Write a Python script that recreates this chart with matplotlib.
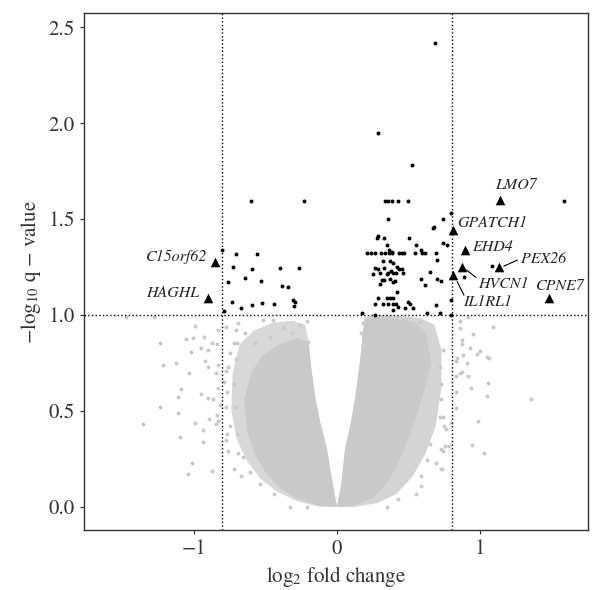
import matplotlib
matplotlib.use("Agg")
import matplotlib.pyplot as plt

plt.rcParams['font.family'] = ['STIXGeneral', 'DejaVu Serif']
plt.rcParams['mathtext.fontset'] = 'stix'

# outlines of the non-significant cloud
# core = where the grey dots merge into a solid mass, halo = the sparser rim
left_core_x = [0.0, -0.03, -0.07, -0.12, -0.15, -0.18, -0.20, -0.28, -0.40, -0.52, -0.60, -0.65, -0.63, -0.58, -0.50, -0.42, -0.30, -0.15]
left_core_y = [0.0, 0.12, 0.30, 0.45, 0.56, 0.72, 0.86, 0.88, 0.85, 0.79, 0.70, 0.56, 0.40, 0.28, 0.18, 0.11, 0.05, 0.01]
right_core_x = [0.0, 0.03, 0.056, 0.10, 0.125, 0.16, 0.18, 0.20, 0.30, 0.42, 0.55, 0.62, 0.66, 0.60, 0.53, 0.47, 0.41, 0.35, 0.26, 0.12]
right_core_y = [0.0, 0.12, 0.30, 0.45, 0.56, 0.75, 0.90, 0.98, 0.99, 0.98, 0.96, 0.91, 0.75, 0.58, 0.42, 0.30, 0.20, 0.125, 0.05, 0.01]
left_halo_x = [0.0, -0.03, -0.07, -0.12, -0.15, -0.18, -0.20, -0.22, -0.32, -0.45, -0.58, -0.68, -0.73, -0.74, -0.70, -0.63, -0.54, -0.42, -0.28, -0.12]
left_halo_y = [0.0, 0.12, 0.30, 0.45, 0.56, 0.72, 0.86, 0.95, 0.97, 0.96, 0.92, 0.85, 0.70, 0.50, 0.35, 0.24, 0.15, 0.08, 0.03, 0.0]
right_halo_x = [0.0, 0.03, 0.056, 0.10, 0.125, 0.16, 0.18, 0.19, 0.30, 0.45, 0.58, 0.68, 0.73, 0.73, 0.69, 0.62, 0.53, 0.42, 0.28, 0.12]
right_halo_y = [0.0, 0.12, 0.30, 0.45, 0.56, 0.75, 0.90, 0.99, 1.0, 0.995, 0.985, 0.95, 0.82, 0.62, 0.42, 0.28, 0.16, 0.07, 0.02, 0.0]

# scattered non-significant genes
grey_x = [-1.478, -1.28, -0.993, -1.238, -1.058, -1.01, -0.93, -1.023, -0.953, -0.872, -0.90, -1.22, -1.128,
          -0.925, -0.90, -1.033, -1.093, -1.11, -0.953, -0.90, -0.87, -1.236, -1.11, -1.36, -0.995, -0.937,
          -0.895, -0.837, -1.10, -0.937, -1.012, -1.044, -0.872,
          -0.83, -0.84, -0.83, -0.85, -0.83, -0.82, -0.83, -0.85,
          -0.78, -0.71, -0.69, -0.72, -0.75, -0.78, -0.76, -0.79, -0.77, -0.78, -0.75, -0.77, -0.78, -0.76,
          -0.69, -0.72, -0.67,
          -0.70, -0.643, -0.573, -0.469, -0.375, -0.259, -0.21, -0.515, -0.45, -0.315, -0.20, -0.71, -0.72,
          -0.71, -0.70, -0.66, -0.61, -0.54, -0.44, -0.33, -0.21,
          0.914, 1.089, 0.949, 0.86, 0.86, 0.872, 0.876, 0.93, 1.0, 0.977, 1.047, 1.06, 0.88, 0.837, 0.83,
          0.911, 0.872, 0.86, 0.918, 0.83, 1.058, 0.937, 1.047, 1.36, 0.83, 0.832, 0.984, 0.942, 1.028, 0.80,
          0.76, 0.785, 0.756, 0.74, 0.737, 0.74,
          0.743, 0.72, 0.73, 0.72, 0.65, 0.63, 0.73, 0.59, 0.35,
          0.277, 0.37, 0.46, 0.52, 0.58, 0.50, 0.56, 0.18, 0.17, 0.73, 0.75, 0.73, 0.69, 0.59, 0.55, 0.43]
grey_y = [0.99, 0.99, 0.944, 0.856, 0.875, 0.88, 0.885, 0.81, 0.83, 0.856, 0.82, 0.74, 0.75,
          0.76, 0.73, 0.696, 0.615, 0.575, 0.59, 0.566, 0.56, 0.52, 0.49, 0.43, 0.44, 0.40,
          0.457, 0.48, 0.366, 0.34, 0.23, 0.172, 0.187,
          0.92, 0.85, 0.74, 0.70, 0.62, 0.53, 0.45, 0.43,
          0.94, 0.92, 0.96, 0.856, 0.80, 0.71, 0.73, 0.65, 0.60, 0.52, 0.42, 0.38, 0.35, 0.29,
          0.28, 0.20, 0.16,
          0.853, 0.905, 0.853, 0.887, 0.93, 0.948, 0.97, 0.974, 0.974, 0.905, 0.861, 0.77, 0.64,
          0.52, 0.38, 0.26, 0.18, 0.12, 0.07, 0.0, 0.0,
          0.988, 0.936, 0.90, 0.97, 0.93, 0.87, 0.85, 0.83, 0.814, 0.797, 0.783, 0.775, 0.79, 0.774, 0.76,
          0.748, 0.705, 0.70, 0.682, 0.68, 0.644, 0.618, 0.578, 0.56, 0.60, 0.514, 0.45, 0.323, 0.28, 0.44,
          0.405, 0.318, 0.316, 0.29, 0.196, 0.47,
          0.82, 0.73, 0.56, 0.47, 0.33, 0.245, 0.20, 0.16, 0.0,
          0.991, 0.98, 0.974, 0.957, 0.965, 0.905, 0.88, 0.957, 0.905, 0.64, 0.42, 0.30, 0.23, 0.11, 0.07, 0.04]

# significant genes (black dots)
sig_x = [0.208, 0.238, 0.268, 0.305, 0.333, 0.366, 0.382, 0.436, 0.452, 0.471, 0.545, 0.592, 0.615, 0.692,
         -0.604, -0.231, 0.336, 0.359, 0.382, 0.424, 0.499, 1.59, 0.685, 0.289, 0.522,
         0.354, 0.80, 0.743, 0.678, 0.674, 0.277, 0.29, 0.331, 0.506, 0.347, 0.366, 0.382, 0.552, 0.585,
         0.739, 0.771, 0.697, 0.324, 0.37, 0.394, 0.417, 0.436, 0.266, 0.29, 0.331, 0.359, 0.378, 0.41,
         0.453, 0.254, 0.30, 0.347, 0.389, 0.462, 0.65, 0.585, 0.615, 0.697, 0.73, 0.312, 0.328, 0.37,
         0.389, 0.406, 0.30, 0.417, 0.289, 0.347, 0.37, 0.394, 0.266, 0.324, 0.359, 0.389, 0.413, 0.499,
         0.51, 0.427, 0.474, 0.533, 0.394, 0.692, 0.627, 0.72, 0.172, 0.266, 0.80, 0.80, 1.082, 0.888,
         -0.802, -0.706, -0.562, -0.729, -0.592, -0.396, -0.268, -0.765, -0.646, -0.534, -0.385, -0.34,
         -0.306, -0.295, -0.30, -0.734, -0.674, -0.597, -0.522, -0.438, -0.788]
sig_y = [1.321, 1.321, 1.321, 1.321, 1.321, 1.321, 1.321, 1.321, 1.321, 1.321, 1.321, 1.321, 1.321, 1.321,
         1.595, 1.595, 1.595, 1.595, 1.595, 1.595, 1.595, 1.595, 2.415, 1.951, 1.78,
         1.498, 1.53, 1.498, 1.457, 1.455, 1.40, 1.41, 1.40, 1.40, 1.365, 1.34, 1.33, 1.365, 1.34,
         1.373, 1.365, 1.286, 1.281, 1.281, 1.27, 1.25, 1.24, 1.246, 1.24, 1.246, 1.22, 1.23, 1.22,
         1.24, 1.214, 1.22, 1.214, 1.22, 1.22, 1.226, 1.19, 1.156, 1.19, 1.18, 1.182, 1.185, 1.19,
         1.17, 1.18, 1.16, 1.12, 1.087, 1.087, 1.087, 1.087, 1.06, 1.06, 1.06, 1.06, 1.06, 1.069,
         1.06, 1.04, 1.035, 1.035, 1.026, 1.052, 1.009, 1.009, 1.009, 1.0, 1.078, 1.0, 1.255, 1.196,
         1.339, 1.316, 1.316, 1.252, 1.24, 1.243, 1.243, 1.172, 1.193, 1.177, 1.15, 1.146,
         1.078, 1.066, 1.047, 1.066, 1.035, 1.052, 1.063, 1.059, 1.022]

# highlighted genes
genes = ['LMO7', 'GPATCH1', 'EHD4', 'HVCN1', 'IL1RL1', 'PEX26', 'CPNE7', 'C15orf62', 'HAGHL']
gene_x = [1.14, 0.813, 0.897, 0.872, 0.813, 1.135, 1.48, -0.853, -0.90]
gene_y = [1.60, 1.443, 1.339, 1.248, 1.208, 1.248, 1.087, 1.278, 1.087]

fc_cut = 0.807
q_cut = 1.0

fig = plt.figure(figsize=(5.92, 5.90), dpi=100)
ax = fig.add_axes([0.142, 0.1017, 0.851, 0.876])

grey = '#c9c9c9'
ax.fill(left_halo_x, left_halo_y, color='#d8d8d8', lw=0, zorder=1)
ax.fill(right_halo_x, right_halo_y, color='#d4d4d4', lw=0, zorder=1)
ax.fill(left_core_x, left_core_y, color=grey, lw=0, zorder=1.5)
ax.fill(right_core_x, right_core_y, color=grey, lw=0, zorder=1.5)
ax.scatter(grey_x, grey_y, s=8, color=grey, lw=0, zorder=2)

ax.axvline(-fc_cut, color='black', ls=':', lw=1, zorder=3)
ax.axvline(fc_cut, color='black', ls=':', lw=1, zorder=3)
ax.axhline(q_cut, color='black', ls=':', lw=1, zorder=3)

ax.scatter(sig_x, sig_y, s=8, color='black', lw=0, zorder=4)
ax.scatter(gene_x, gene_y, s=48, marker='^', color='black', lw=0, zorder=5)

lab = dict(fontsize=11.5, style='italic', color='#222222', zorder=6)
ax.text(1.25, 1.677, 'LMO7', ha='center', va='center', **lab)
ax.text(0.842, 1.48, 'GPATCH1', ha='left', va='center', **lab)
ax.text(0.942, 1.356, 'EHD4', ha='left', va='center', **lab)
ax.text(1.284, 1.29, 'PEX26', ha='left', va='center', **lab)
ax.text(0.988, 1.161, 'HVCN1', ha='left', va='center', **lab)
ax.text(0.879, 1.069, 'IL1RL1', ha='left', va='center', **lab)
ax.text(1.563, 1.151, 'CPNE7', ha='center', va='center', **lab)
ax.text(-0.911, 1.304, 'C15orf62', ha='right', va='center', **lab)
ax.text(-0.965, 1.113, 'HAGHL', ha='right', va='center', **lab)
ax.plot([1.168, 1.261], [1.255, 1.286], color='black', lw=0.8)
ax.plot([0.907, 0.972], [1.234, 1.196], color='black', lw=0.8)
ax.plot([0.841, 0.888], [1.173, 1.104], color='black', lw=0.8)

ax.set_xlim(-1.77, 1.755)
ax.set_ylim(-0.12, 2.573)
ax.set_xticks([-1, 0, 1])
ax.set_xticklabels(['\u22121', '0', '1'])
ax.set_yticks([0.0, 0.5, 1.0, 1.5, 2.0, 2.5])
ax.set_yticklabels(['0.0', '0.5', '1.0', '1.5', '2.0', '2.5'])
ax.tick_params(labelsize=15, length=3, color='#333333', labelcolor='#333333')
for sp in ax.spines.values():
    sp.set_color('#333333')
    sp.set_linewidth(1)

ax.set_xlabel('log$_2$ fold change', fontsize=15, color='#333333')
ax.set_ylabel('$-$log$_{10}$ q $-$ value', fontsize=15, color='#333333')

fig.savefig('out.png', dpi=100)
